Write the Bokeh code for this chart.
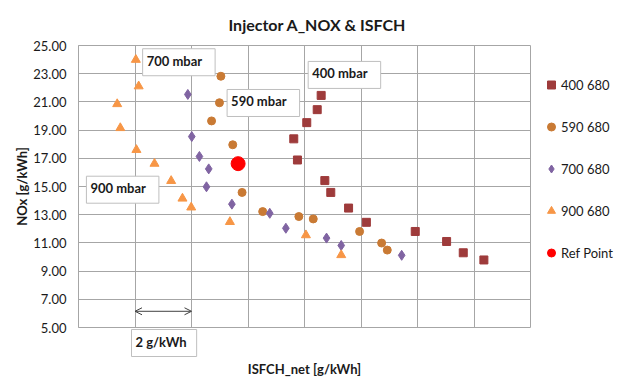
from bokeh.plotting import figure
from bokeh.layouts import row
from bokeh.models import (Range1d, FixedTicker, Label, Arrow, OpenHead, Legend,
                          LegendItem, NumeralTickFormatter, Title)
from bokeh.embed import file_html
from bokeh.resources import INLINE

# ---------------- data ----------------
s400_x = [8.59, 8.45, 8.08, 7.62, 7.75, 8.72, 8.93, 9.56, 10.19, 11.92, 13.03, 13.62, 14.35]
s400_y = [21.46, 20.45, 19.53, 18.38, 16.88, 15.42, 14.58, 13.47, 12.46, 11.81, 11.10, 10.30, 9.79]

s590_x = [5.04, 4.99, 4.71, 5.46, 5.79, 6.52, 7.80, 8.31, 9.95, 10.73, 10.93]
s590_y = [22.82, 20.94, 19.65, 17.96, 14.58, 13.22, 12.87, 12.70, 11.81, 10.99, 10.49]

s700_x = [3.87, 4.01, 4.28, 4.61, 4.53, 5.43, 6.77, 7.34, 8.78, 9.30, 11.44]
s700_y = [21.53, 18.54, 17.13, 16.25, 14.98, 13.75, 13.10, 12.04, 11.34, 10.82, 10.12]

s900_x = [2.03, 2.13, 1.37, 1.48, 2.05, 2.69, 3.28, 3.68, 3.99, 5.36, 8.05, 9.30]
s900_y = [23.99, 22.11, 20.85, 19.15, 17.60, 16.62, 15.40, 14.15, 13.52, 12.49, 11.55, 10.14]

ref_x = [5.65]
ref_y = [16.62]

series_names = ["400 680", "590 680", "700 680", "900 680", "Ref Point"]
y_ticks = [5, 7, 9, 11, 13, 15, 17, 19, 21, 23, 25]
x_grid = [0, 2, 4, 6, 8, 10, 12, 14, 16]

FONT = "Lato"
GRID = "#a6a6a6"
TXT = "#1a1a1a"

styles = [
    dict(marker="square", size=8, color="#9e3b3b"),
    dict(marker="circle", size=8, color="#c97a34"),
    dict(marker="diamond", size=10, color="#8064a2"),
    dict(marker="triangle", size=9, color="#f79646"),
    dict(marker="circle", size=14, color="#ff0000"),
]
series = [(s400_x, s400_y), (s590_x, s590_y), (s700_x, s700_y),
          (s900_x, s900_y), (ref_x, ref_y)]

p = figure(width=531, height=379, output_backend="svg", toolbar_location=None,
           x_range=Range1d(0, 16), y_range=Range1d(5, 25),
           min_border_left=78, min_border_right=1, min_border_top=45,
           min_border_bottom=50)

p.title.text = "Injector A_NOX & ISFCH"
p.title.align = "left"
p.title.offset = 150
p.title.vertical_align = "top"
p.title.standoff = 20
p.title.text_font = FONT
p.title.text_font_size = "16px"
p.title.text_font_style = "bold"
p.title.text_color = TXT

p.outline_line_color = GRID
p.background_fill_color = "white"
p.border_fill_color = "white"

p.xgrid.ticker = FixedTicker(ticks=x_grid)
p.ygrid.ticker = FixedTicker(ticks=y_ticks)
p.grid.grid_line_color = GRID
p.grid.grid_line_width = 1

p.yaxis.ticker = FixedTicker(ticks=y_ticks)
p.yaxis.formatter = NumeralTickFormatter(format="0.00")
p.yaxis.major_tick_line_color = None
p.yaxis.minor_tick_line_color = None
p.yaxis.major_tick_out = 0
p.yaxis.major_tick_in = 0
p.yaxis.axis_line_color = GRID
p.yaxis.major_label_standoff = 12
p.yaxis.major_label_text_font = FONT
p.yaxis.major_label_text_font_size = "13px"
p.yaxis.major_label_text_color = TXT
p.yaxis.axis_label = "NOx [g/kWh]"
p.yaxis.axis_label_text_font = FONT
p.yaxis.axis_label_text_font_size = "13px"
p.yaxis.axis_label_text_font_style = "bold"
p.yaxis.axis_label_text_color = TXT
p.yaxis.axis_label_standoff = 0

xaxis = p.xaxis[0]
xaxis.ticker = FixedTicker(ticks=[])
xaxis.major_tick_line_color = None
xaxis.minor_tick_line_color = None
xaxis.major_tick_out = 0
xaxis.major_tick_in = 0
xaxis.major_label_standoff = 0
xaxis.axis_line_color = None
xaxis.axis_label = "ISFCH_net [g/kWh]"
xaxis.axis_label_text_font = FONT
xaxis.axis_label_text_font_size = "13px"
xaxis.axis_label_text_font_style = "bold"
xaxis.axis_label_text_color = TXT
xaxis.axis_label_text_line_height = 0.9
xaxis.axis_label_standoff = 0

for (xs, ys), st in zip(series, styles):
    p.scatter(xs, ys, marker=st["marker"], size=st["size"],
              fill_color=st["color"], line_color=st["color"])

def box(x, y, text):
    lab = Label(x=x, y=y, text=text, anchor="top_left",
                text_font=FONT, text_font_size="13px", text_font_style="bold",
                text_color=TXT, background_fill_color="white",
                border_line_color="#bfbfbf", border_line_width=1,
                padding=(4, 13, 4, 7))
    p.add_layout(lab)

box(2.27, 24.77, "700 mbar")
box(5.26, 21.88, "590 mbar")
box(8.13, 23.87, "400 mbar")
box(0.28, 15.73, "900 mbar")

gbox = Title(text="2 g/kWh", align="left", offset=53, standoff=4,
             vertical_align="top",
             text_font=FONT, text_font_size="13px", text_font_style="bold",
             text_color=TXT, background_fill_color="white",
             border_line_color="#bfbfbf", border_line_width=1,
             padding=(4, 10, 4, 7))
p.below = [gbox, xaxis]

p.add_layout(Arrow(start=OpenHead(size=7, line_color="#404040", line_width=1),
                   end=OpenHead(size=7, line_color="#404040", line_width=1),
                   x_start=2, y_start=6.15, x_end=4, y_end=6.15,
                   line_color="#404040", line_width=1))

# legend panel on the right (series drawn out of its view, only the legend shows)
lp = figure(width=88, height=379, output_backend="svg", toolbar_location=None,
            x_range=Range1d(0, 1), y_range=Range1d(0, 1), min_border=0,
            x_axis_location=None, y_axis_location=None)
lp.grid.visible = False
lp.outline_line_color = None
lp.border_fill_color = "white"
items = []
for name, (xs, ys), st in zip(series_names, series, styles):
    r = lp.scatter(xs, ys, marker=st["marker"], size=8,
                   fill_color=st["color"], line_color=st["color"])
    items.append(LegendItem(label=name, renderers=[r]))
legend = Legend(items=items, location=(10, 64), orientation="vertical",
                glyph_width=20, glyph_height=21, label_height=21, spacing=21,
                label_standoff=0, padding=0, margin=0,
                border_line_color=None, background_fill_alpha=0,
                label_text_font=FONT, label_text_font_size="13px",
                label_text_color=TXT)
lp.add_layout(legend)

layout = row(p, lp, spacing=0)
open("out.html", "w").write(file_html(layout, INLINE))
